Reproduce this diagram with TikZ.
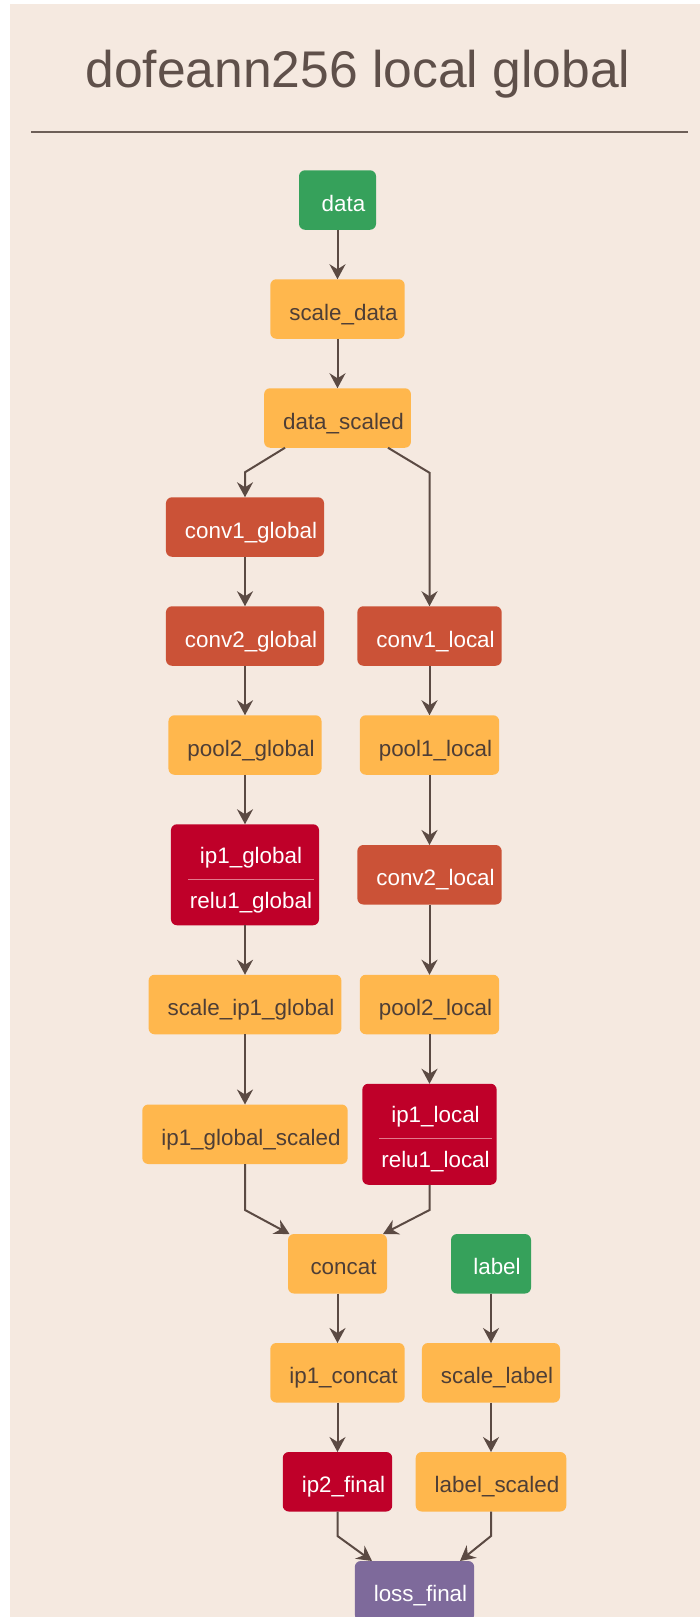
\documentclass[tikz,border=0pt]{standalone}
\usepackage{fontspec}
\setmainfont{Liberation Sans}
\usepackage{tikz}
\usetikzlibrary{positioning, arrows.meta, calc}
\definecolor{netbg}{HTML}{F5E9E0}
\definecolor{nettitle}{HTML}{5F504A}
\definecolor{netrule}{HTML}{6D5F58}
\definecolor{netedge}{HTML}{5B4A43}
\definecolor{netink}{HTML}{4E3E36}
\definecolor{netgreen}{HTML}{36A15B}
\definecolor{netorange}{HTML}{FFB74D}
\definecolor{netconv}{HTML}{CB5237}
\definecolor{netip}{HTML}{BF0029}
\definecolor{netloss}{HTML}{7E6A9B}
\definecolor{netsplit}{HTML}{E27A8C}

\begin{document}
\begin{tikzpicture}[x=0.5pt, y=-0.5pt, node distance=24.75pt,
  lyr/.style={rounded corners=3pt, minimum height=29.75pt, inner xsep=3.5pt, inner ysep=0pt,
    outer sep=0pt, text height=13pt, text depth=2pt, font=\fontsize{11.2pt}{13pt}\selectfont,
    execute at begin node=\hspace*{6pt}},
  lyrtwo/.style={rounded corners=3pt, minimum height=50.5pt, inner xsep=3.5pt, inner ysep=0pt,
    outer sep=0pt, align=center, text height=35.5pt, text depth=2pt,
    font=\fontsize{11.2pt}{22.5pt}\selectfont, fill=netip, text=white},
  inp/.style={lyr, fill=netgreen, text=white},
  blob/.style={lyr, fill=netorange, text=netink},
  conv/.style={lyr, fill=netconv, text=white},
  ip/.style={lyr, fill=netip, text=white},
  loss/.style={lyr, fill=netloss, text=white},
  flow/.style={draw=netedge, line width=1pt, -{Stealth[length=7.5pt, width=8pt, inset=2.5pt]}},
  splitline/.style={draw=netsplit, line width=0.5pt}]

\useasboundingbox (0,0) rectangle (700,1617);
\fill[netbg] (10,4) rectangle (700,1617);

% title
\node[anchor=base, text=nettitle, font=\fontsize{25.8pt}{30pt}\selectfont] (title) at (358,87) {dofeann256 local global};
\draw[netrule, line width=1pt] (31,132) -- (688,132);

% input branch
\node[inp, minimum width=38.5pt] (data) at (337.5,200) {data};
\node[blob, below=of data] (scale_data) {scale\_data};
\node[blob, below=of scale_data] (data_scaled) {data\_scaled};

% global column
\node[conv, below=of data_scaled, xshift=-46.25pt] (conv1_global) {conv1\_global};
\node[conv, below=of conv1_global] (conv2_global) {conv2\_global};
\node[blob, below=of conv2_global] (pool2_global) {pool2\_global};
\node[lyrtwo, below=of pool2_global] (ip1_global) {\hspace*{6pt}ip1\_global\\\hspace*{6pt}relu1\_global};
\node[blob, below=of ip1_global] (scale_ip1_global) {scale\_ip1\_global};

% local column
\node[conv] (conv1_local) at ([xshift=92.25pt]conv2_global) {conv1\_local};
\node[blob, below=of conv1_local] (pool1_local) {pool1\_local};
\node[conv] (conv2_local) at (ip1_global -| pool1_local) {conv2\_local};
\node[blob] (pool2_local) at (scale_ip1_global -| conv2_local) {pool2\_local};
\node[lyrtwo, below=of pool2_local] (ip1_local) {\hspace*{6pt}ip1\_local\\\hspace*{6pt}relu1\_local};
\node[blob] (ip1_global_scaled) at (ip1_local -| scale_ip1_global) {ip1\_global\_scaled};

% head + labels
\node[blob, minimum width=49.5pt] (concat) at ([yshift=-64.75pt]ip1_global_scaled -| data_scaled) {concat};
\node[inp, minimum width=40pt] (label) at ([xshift=76.75pt]concat) {label};
\node[blob, below=of concat] (ip1_concat) {ip1\_concat};
\node[ip, below=of ip1_concat] (ip2_final) {ip2\_final};
\node[blob, below=of label] (scale_label) {scale\_label};
\node[blob, below=of scale_label] (label_scaled) {label\_scaled};
\node[loss, below=of ip2_final, xshift=38.5pt] (loss_final) {loss\_final};

\foreach \n in {ip1_global, ip1_local}{
  \draw[splitline] ([xshift=8.5pt,yshift=-2.25pt]\n.west) -- ([xshift=-2.5pt,yshift=-2.25pt]\n.east);}

\foreach \a/\b in {data/scale_data, scale_data/data_scaled, conv1_global/conv2_global,
  conv2_global/pool2_global, pool2_global/ip1_global, ip1_global/scale_ip1_global,
  scale_ip1_global/ip1_global_scaled, conv1_local/pool1_local, pool1_local/conv2_local,
  conv2_local/pool2_local, pool2_local/ip1_local, concat/ip1_concat, ip1_concat/ip2_final,
  label/scale_label, scale_label/label_scaled}{
  \draw[flow] (\a) -- (\b);}

% split and merges
\draw[flow] ([xshift=-26.25pt]data_scaled.south) -- ([yshift=12.5pt]conv1_global.north) -- (conv1_global.north);
\draw[flow] ([xshift=25.25pt]data_scaled.south) -- ([yshift=-12.5pt]data_scaled.south -| conv1_local) -- (conv1_local.north);
\draw[flow] (ip1_global_scaled.south) -- ([yshift=12pt]concat.north -| ip1_global_scaled) -- ([xshift=-24pt]concat.north);
\draw[flow] (ip1_local.south) -- ([yshift=12pt]concat.north -| ip1_local) -- ([xshift=22.75pt]concat.north);
\draw[flow] (ip2_final.south) -- ([yshift=12.5pt]loss_final.north -| ip2_final) -- ([xshift=-21.25pt]loss_final.north);
\draw[flow] (label_scaled.south) -- ([yshift=12.5pt]loss_final.north -| label_scaled) -- ([xshift=22.75pt]loss_final.north);

\end{tikzpicture}
\end{document}
